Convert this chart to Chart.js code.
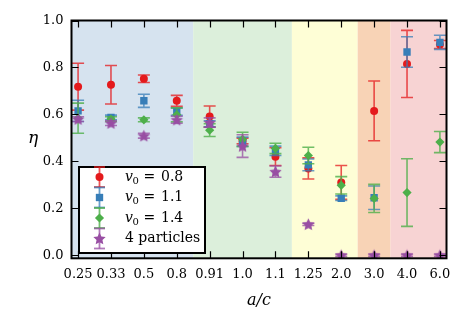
<!DOCTYPE html>
<html>
<head>
<meta charset="utf-8">
<script src="https://cdn.jsdelivr.net/npm/chart.js@4.4.1/dist/chart.umd.min.js"></script>
<style>
html,body{margin:0;padding:0;background:#fff;}
#wrap{width:466px;height:326px;}
</style>
</head>
<body>
<div id="wrap"><canvas id="c" width="466" height="326"></canvas></div>
<script>
// a/c categories along x
const categories = ['0.25','0.33','0.5','0.8','0.91','1.0','1.1','1.25','2.0','3.0','4.0','6.0'];
const yTicks = [0, 0.2, 0.4, 0.6, 0.8, 1.0];

// eta per series, with error half-widths
const v08    = [0.718, 0.726, 0.752, 0.658, 0.591, 0.487, 0.420, 0.370, 0.310, 0.615, 0.815, 0.898];
const v08err = [0.100, 0.082, 0.016, 0.023, 0.045, 0.012, 0.038, 0.045, 0.072, 0.127, 0.143, 0.017];
const v11    = [0.615, 0.587, 0.658, 0.612, 0.560, 0.483, 0.445, 0.385, 0.243, 0.245, 0.866, 0.907];
const v11err = [0.045, 0.010, 0.028, 0.016, 0.013, 0.020, 0.020, 0.025, 0.010, 0.050, 0.065, 0.030];
const v14    = [0.584, 0.580, 0.577, 0.598, 0.533, 0.494, 0.455, 0.425, 0.298, 0.242, 0.267, 0.482];
const v14err = [0.064, 0.010, 0.008, 0.030, 0.027, 0.030, 0.022, 0.035, 0.037, 0.060, 0.144, 0.045];
const p4     = [0.580, 0.563, 0.509, 0.577, 0.565, 0.465, 0.356, 0.132, 0.000, 0.000, 0.000, 0.000];
const p4err  = [0.010, 0.010, 0.010, 0.015, 0.020, 0.048, 0.024, 0.005, 0.005, 0.005, 0.005, 0.005];

// shaded regions (category boundaries)
const bandEdges = [-0.2, 3.5, 6.5, 8.5, 9.5, 11.2];
const bandColors = ['#d6e3ef', '#dcefdb', '#fefed6', '#f8d3b6', '#f7d3d3'];

const SERIF = "'DejaVu Serif', 'Liberation Serif', serif";

function pts(vals) { return vals.map((v, i) => ({ x: i, y: v })); }

function starImage(r, color) {
  const c = document.createElement('canvas');
  c.width = c.height = Math.ceil(r * 2) + 2;
  const g = c.getContext('2d');
  const cx = c.width / 2, cy = c.height / 2 + r * 0.08;
  g.beginPath();
  for (let k = 0; k < 10; k++) {
    const rad = k % 2 ? r * 0.48 : r;
    const ang = -Math.PI / 2 + k * Math.PI / 5;
    g.lineTo(cx + rad * Math.cos(ang), cy + rad * Math.sin(ang));
  }
  g.closePath();
  g.fillStyle = color;
  g.fill();
  return c;
}
const star = starImage(6.5, '#984ea3');

const series = [
  { label: '0.8', data: v08, err: v08err, color: '#e41a1c', errColor: 'rgba(228,26,28,0.75)', style: 'circle', r: 4, order: 4 },
  { label: '1.1', data: v11, err: v11err, color: '#377eb8', errColor: 'rgba(55,126,184,0.75)', style: 'rect', r: 5.2, order: 3 },
  { label: '1.4', data: v14, err: v14err, color: '#4daf4a', errColor: 'rgba(77,175,74,0.8)', style: 'rectRot', r: 4.6, order: 2 },
  { label: '4 particles', data: p4, err: p4err, color: '#984ea3', errColor: 'rgba(152,78,163,0.75)', style: star, r: 6.5, order: 1 },
];

function errBar(ctx, px, top, bot, half) {
  ctx.beginPath();
  ctx.moveTo(px, top); ctx.lineTo(px, bot);
  ctx.moveTo(px - half, top); ctx.lineTo(px + half, top);
  ctx.moveTo(px - half, bot); ctx.lineTo(px + half, bot);
  ctx.stroke();
}

const bandsPlugin = {
  id: 'bands',
  beforeDraw(chart) {
    const { ctx, chartArea: a, scales: { x } } = chart;
    ctx.save();
    for (let i = 0; i < bandColors.length; i++) {
      const l = Math.max(a.left, x.getPixelForValue(bandEdges[i]));
      const r = Math.min(a.right, x.getPixelForValue(bandEdges[i + 1]));
      ctx.fillStyle = bandColors[i];
      ctx.fillRect(l, a.top, r - l, a.bottom - a.top);
    }
    ctx.restore();
  }
};

const errorBars = {
  id: 'errorBars',
  beforeDatasetDraw(chart, args) {
    const ds = chart.data.datasets[args.index];
    if (!ds.errors) return;
    const { ctx, chartArea: a } = chart;
    const x = chart.scales.x, y = chart.scales.y;
    ctx.save();
    ctx.beginPath();
    ctx.rect(a.left - 10, a.top - 10, a.width + 20, a.height + 10);
    ctx.clip();
    ctx.strokeStyle = ds.errColor;
    ctx.lineWidth = 1.6;
    ds.data.forEach((p, i) => {
      const e = ds.errors[i];
      const px = x.getPixelForValue(p.x);
      errBar(ctx, px, y.getPixelForValue(p.y + e), y.getPixelForValue(p.y - e), 6);
    });
    ctx.restore();
  }
};

const framePlugin = {
  id: 'frame',
  afterDraw(chart) {
    const { ctx, chartArea: a, scales: { x, y } } = chart;
    ctx.save();
    // inward ticks on all four sides
    ctx.strokeStyle = '#000';
    ctx.lineWidth = 1.2;
    ctx.beginPath();
    categories.forEach((_, i) => {
      const px = Math.round(x.getPixelForValue(i)) + 0.5;
      ctx.moveTo(px, a.bottom); ctx.lineTo(px, a.bottom - 7);
      ctx.moveTo(px, a.top); ctx.lineTo(px, a.top + 7);
    });
    yTicks.forEach(v => {
      const py = Math.round(y.getPixelForValue(v)) + 0.5;
      ctx.moveTo(a.left, py); ctx.lineTo(a.left + 7, py);
      ctx.moveTo(a.right, py); ctx.lineTo(a.right - 7, py);
    });
    ctx.stroke();
    ctx.lineWidth = 2;
    ctx.strokeRect(a.left, a.top, a.right - a.left, a.bottom - a.top);

    // legend
    const bx = 79, by = 167, bw = 126, bh = 86;
    ctx.fillStyle = '#fff';
    ctx.fillRect(bx, by, bw, bh);
    ctx.lineWidth = 2;
    ctx.strokeStyle = '#000';
    ctx.strokeRect(bx, by, bw, bh);
    const rows = [177, 197.5, 218, 238.5];
    series.forEach((s, i) => {
      const mx = 99.5, my = rows[i];
      ctx.fillStyle = s.errColor;
      ctx.fillRect(mx - 0.9, my - 10, 1.8, 20);
      ctx.fillRect(mx - 5.5, my - 10.9, 11, 1.8);
      ctx.fillRect(mx - 5.5, my + 9.1, 11, 1.8);
      ctx.fillStyle = s.color;
      if (typeof s.style === 'string') {
        ctx.beginPath();
        if (s.style === 'circle') ctx.arc(mx, my, s.r, 0, Math.PI * 2);
        else if (s.style === 'rect') { const h = s.r * Math.SQRT1_2; ctx.rect(mx - h, my - h, 2 * h, 2 * h); }
        else { ctx.moveTo(mx, my - s.r); ctx.lineTo(mx + s.r, my); ctx.lineTo(mx, my + s.r); ctx.lineTo(mx - s.r, my); ctx.closePath(); }
        ctx.fill();
      } else {
        ctx.drawImage(s.style, mx - s.style.width / 2, my - s.style.height / 2);
      }
      ctx.fillStyle = '#000';
      ctx.textBaseline = 'middle';
      ctx.textAlign = 'left';
      if (s.label === '4 particles') {
        ctx.font = '14px ' + SERIF;
        ctx.fillText(s.label, 125, my);
      } else {
        ctx.font = 'italic 14px ' + SERIF;
        ctx.fillText('v', 125, my);
        ctx.font = '10px ' + SERIF;
        ctx.fillText('0', 132.5, my + 4);
        ctx.font = '14px ' + SERIF;
        ctx.fillText('=', 143.5, my);
        ctx.fillText(s.label, 161, my);
      }
    });

    // axis titles
    ctx.fillStyle = '#000';
    ctx.textAlign = 'center';
    ctx.textBaseline = 'middle';
    ctx.font = 'italic 16px ' + SERIF;
    ctx.fillText('a/c', 259, 301);
    ctx.font = 'italic 17px ' + SERIF;
    ctx.fillText('η', 33, 139);
    ctx.restore();
  }
};

new Chart(document.getElementById('c'), {
  type: 'scatter',
  data: {
    datasets: series.map(s => ({
      label: s.label,
      data: pts(s.data),
      errors: s.err,
      errColor: s.errColor,
      order: s.order,
      pointStyle: s.style,
      pointRadius: s.r,
      pointHoverRadius: s.r,
      pointBorderWidth: 0,
      backgroundColor: s.color,
      borderColor: s.color,
      showLine: false,
      clip: { left: 10, right: 10, top: 10, bottom: 0 }
    }))
  },
  options: {
    responsive: false,
    animation: false,
    devicePixelRatio: 1,
    layout: { padding: { top: 20.5, right: 19.5, left: 0, bottom: 0 } },
    plugins: { legend: { display: false }, tooltip: { enabled: false } },
    scales: {
      x: {
        type: 'linear',
        min: -0.2,
        max: 11.2,
        afterBuildTicks: s => { s.ticks = categories.map((_, i) => ({ value: i })); },
        afterFit: s => { s.height = 67.7; },
        ticks: {
          callback: v => categories[v] ?? '',
          autoSkip: false,
          maxRotation: 0,
          padding: 9,
          color: '#000',
          font: { family: SERIF, size: 13 }
        },
        grid: { display: false, drawTicks: false },
        border: { display: false }
      },
      y: {
        min: -0.013,
        max: 1.0,
        afterBuildTicks: s => { s.ticks = yTicks.map(v => ({ value: v })); },
        afterFit: s => { s.width = 71.5; },
        ticks: {
          callback: v => v.toFixed(1),
          padding: 8,
          color: '#000',
          font: { family: SERIF, size: 13 }
        },
        grid: { display: false, drawTicks: false },
        border: { display: false }
      }
    }
  },
  plugins: [bandsPlugin, errorBars, framePlugin]
});
</script>
</body>
</html>
